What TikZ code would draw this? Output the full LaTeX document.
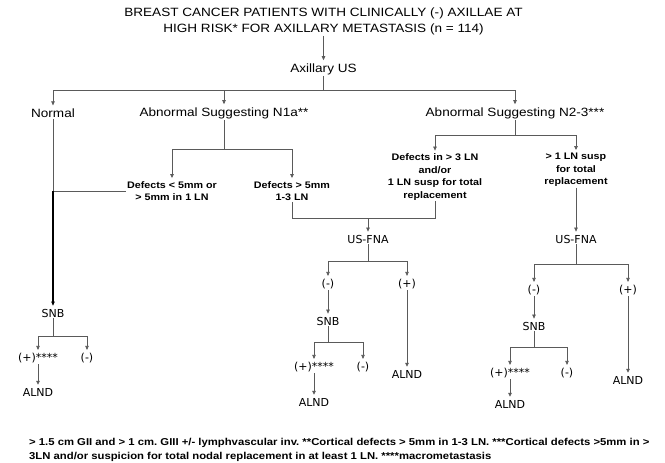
\documentclass[tikz,border=0pt]{standalone}
\usepackage{fontspec}
\setmainfont{Liberation Sans}[FakeStretch=1.13]
\newfontfamily\gill{DejaVu Sans}
\usetikzlibrary{arrows.meta}

\definecolor{linegray}{HTML}{5A5A5A}

\begin{document}
\frenchspacing
\begin{tikzpicture}[x=1pt, y=-1pt]

  \tikzset{
    comic/.style={font=\fontsize{12}{16}\selectfont, align=center, inner sep=1pt},
    small/.style={font=\bfseries\fontsize{9.5}{12.5}\selectfont, align=center, inner sep=1pt},
    gill/.style={font=\gill\fontsize{11}{13}\selectfont, inner sep=1pt},
    link/.style={draw=linegray, line width=0.7pt},
    arr/.style={link, shorten >=2pt, -{Triangle[length=4pt,width=3.5pt]}},
  }

  \useasboundingbox (0,0) rectangle (665,463);

  % top of the tree
  \node[comic] (title) at (323.5,21) {BREAST CANCER PATIENTS WITH CLINICALLY (-) AXILLAE AT\\
    HIGH RISK* FOR AXILLARY METASTASIS (n = 114)};
  \node[comic] (axus) at (323.5,69) {Axillary US};
  \node[comic] (normal) at (53,113) {Normal};
  \node[comic] (n1a) at (224,113) {Abnormal Suggesting N1a**};
  \node[comic] (n23) at (515,113) {Abnormal Suggesting N2-3***};

  % ultrasound findings
  \node[small] (dsmall) at (172,191) {Defects < 5mm or\\> 5mm in 1 LN};
  \node[small] (dlarge) at (292,191) {Defects > 5mm\\1-3 LN};
  \node[small] (dmany) at (435,177) {Defects in > 3 LN\\and/or\\1 LN susp for total\\replacement};
  \node[small] (dsusp) at (576,170) {> 1 LN susp\\for total\\replacement};

  % fine needle aspiration
  \node[gill] (fnaA) at (368,239) {US-FNA};
  \node[gill] (fnaB) at (576,239) {US-FNA};

  % normal branch
  \node[gill] (snbN) at (53,313) {SNB};
  \node[gill] (posN) at (38,358) {(+)****};
  \node[gill] (negN) at (87,358) {(-)};
  \node[gill] (alndN) at (38,392) {ALND};

  % N1a branch
  \node[gill] (negA) at (328,284) {(-)};
  \node[gill] (posA) at (407,284) {(+)};
  \node[gill] (snbA) at (328,321) {SNB};
  \node[gill] (posA2) at (314,367) {(+)****};
  \node[gill] (negA2) at (363,367) {(-)};
  \node[gill] (alndA2) at (314,402) {ALND};
  \node[gill] (alndA) at (407,374) {ALND};

  % N2-3 branch
  \node[gill] (negB) at (534,290) {(-)};
  \node[gill] (posB) at (628,290) {(+)};
  \node[gill] (snbB) at (534,326) {SNB};
  \node[gill] (posB2) at (510,373) {(+)****};
  \node[gill] (negB2) at (567,373) {(-)};
  \node[gill] (alndB2) at (510,404) {ALND};
  \node[gill] (alndB) at (628,380) {ALND};

  % junctions
  \coordinate (bar1) at (323.5,90);
  \coordinate (bar2) at (224,149);
  \coordinate (bar3) at (515,135);
  \coordinate (jn) at (53,191);
  \coordinate (mg) at (368,218);
  \coordinate (barA) at (368,261);
  \coordinate (barA2) at (328,342);
  \coordinate (barB) at (576,264);
  \coordinate (barB2) at (534,347);
  \coordinate (barN) at (53,336);

  \draw[arr] (title) -- (axus);
  \draw[link] (axus) -- (bar1);
  \foreach \to in {normal,n1a,n23}
    \draw[arr] (bar1) -| (\to.north);

  \draw[link] (n1a) -- (bar2);
  \draw[arr] (bar2) -| (dsmall.north);
  \draw[arr] (bar2) -| (dlarge.north);

  \draw[link] (n23) -- (bar3);
  \draw[arr] (bar3) -| (dmany.north);
  \draw[arr] (bar3) -| (dsusp.north);

  \draw[link] (normal) -- (jn);
  \draw[link] (dsmall.west) -- (jn);
  \draw[arr, draw=black, line width=1.3pt] (jn) -- (snbN);

  \draw[link] (dlarge.south) |- (mg);
  \draw[link] (dmany.south) |- (mg);
  \draw[arr] (mg) -- (fnaA);
  \draw[arr] (dsusp) -- (fnaB);

  \draw[link] (snbN) -- (barN);
  \draw[arr] (barN) -| (posN.north);
  \draw[arr] (barN) -| (negN.north);
  \draw[arr] (posN) -- (alndN);

  \draw[link] (fnaA) -- (barA);
  \draw[arr] (barA) -| (negA.north);
  \draw[arr] (barA) -| (posA.north);
  \draw[arr] (negA) -- (snbA);
  \draw[arr] (posA) -- (alndA);
  \draw[link] (snbA) -- (barA2);
  \draw[arr] (barA2) -| (posA2.north);
  \draw[arr] (barA2) -| (negA2.north);
  \draw[arr] (posA2) -- (alndA2);

  \draw[link] (fnaB) -- (barB);
  \draw[arr] (barB) -| (negB.north);
  \draw[arr] (barB) -| (posB.north);
  \draw[arr] (negB) -- (snbB);
  \draw[arr] (posB) -- (alndB);
  \draw[link] (snbB) -- (barB2);
  \draw[arr] (barB2) -| (posB2.north);
  \draw[arr] (barB2) -| (negB2.north);
  \draw[arr] (posB2) -- (alndB2);

  % footnote
  \node[small, align=left, anchor=west, font=\bfseries\fontsize{10}{13.5}\selectfont] (foot) at (28,450)
    {> 1.5 cm GII and > 1 cm. GIII +/- lymphvascular inv. **Cortical defects > 5mm in 1-3 LN. ***Cortical defects >5mm in >\\
     3LN and/or suspicion for total nodal replacement in at least 1 LN. ****macrometastasis};

\end{tikzpicture}
\end{document}
